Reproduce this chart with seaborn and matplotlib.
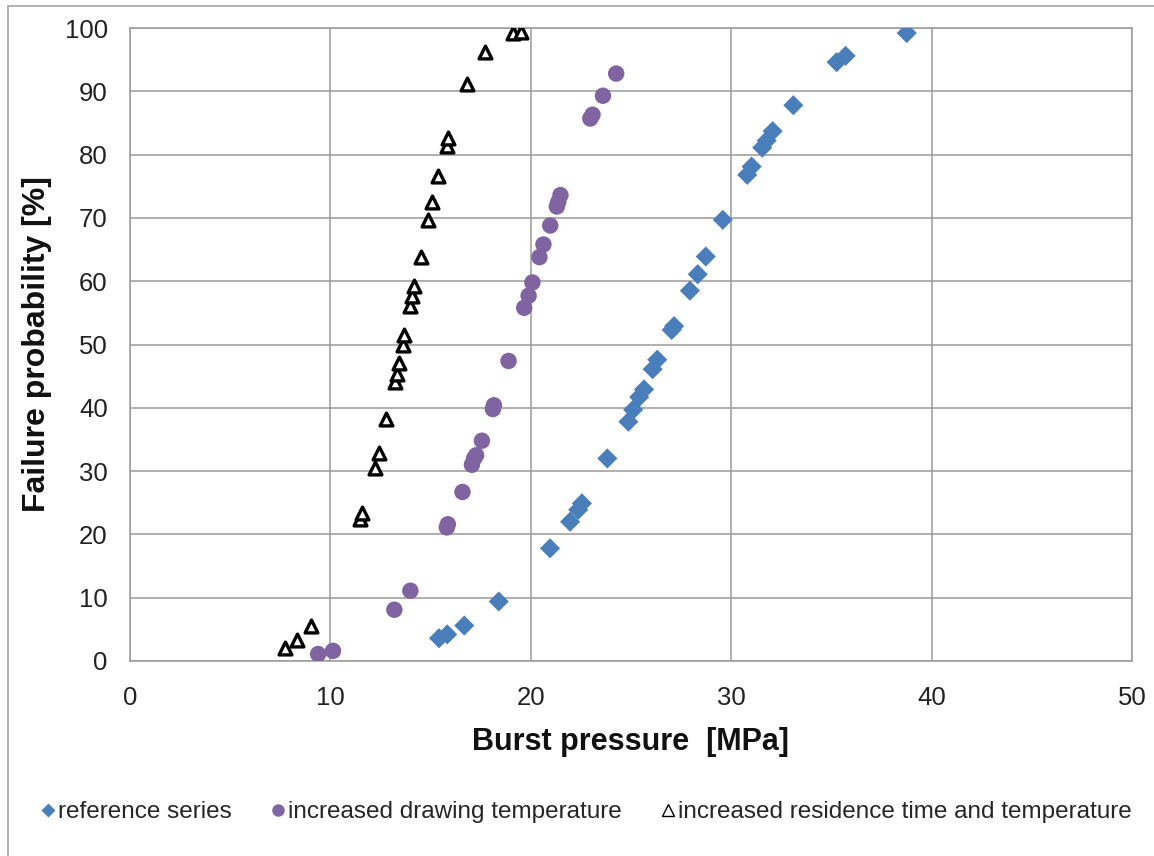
import matplotlib
matplotlib.use("Agg")
import matplotlib.pyplot as plt
from matplotlib.lines import Line2D
import pandas as pd
import seaborn as sns

# Burst pressure [MPa] and failure probability [%] for each test series
ref_pressure = [15.42, 15.83, 16.68, 18.40, 20.96, 21.96, 22.37, 22.55, 23.82, 24.87,
                25.11, 25.41, 25.65, 26.08, 26.31, 27.03, 27.15, 27.94, 28.33, 28.73,
                29.58, 30.80, 31.02, 31.55, 31.77, 32.07, 33.10, 35.26, 35.71, 38.76]
ref_prob = [3.6, 4.2, 5.6, 9.4, 17.8, 22.0, 23.9, 24.9, 32.0, 37.8,
            39.7, 41.7, 42.9, 46.1, 47.6, 52.3, 52.9, 58.5, 61.1, 63.9,
            69.7, 76.8, 78.1, 81.1, 82.2, 83.7, 87.8, 94.6, 95.6, 99.2]

draw_pressure = [9.39, 10.13, 13.19, 13.99, 15.81, 15.86, 16.59, 17.06, 17.17, 17.27,
                 17.56, 18.11, 18.16, 18.89, 19.67, 19.89, 20.08, 20.43, 20.63, 20.97,
                 21.30, 21.37, 21.48, 22.97, 23.08, 23.60, 24.26]
draw_prob = [1.1, 1.6, 8.1, 11.1, 21.1, 21.6, 26.7, 31.0, 32.0, 32.5,
             34.8, 39.8, 40.4, 47.4, 55.8, 57.7, 59.8, 63.8, 65.8, 68.8,
             71.8, 72.5, 73.6, 85.7, 86.3, 89.3, 92.8]

resid_pressure = [7.72, 8.35, 9.05, 11.48, 11.57, 12.23, 12.43, 12.78, 13.22, 13.32,
                  13.42, 13.64, 13.68, 13.98, 14.09, 14.19, 14.51, 14.88, 15.09, 15.39,
                  15.81, 15.86, 16.81, 17.69, 19.11, 19.51]
resid_prob = [2.0, 3.3, 5.6, 22.5, 23.4, 30.5, 32.9, 38.3, 44.0, 45.4,
              47.0, 49.9, 51.5, 56.1, 57.6, 59.3, 63.8, 69.7, 72.5, 76.6,
              81.4, 82.7, 91.1, 96.2, 99.2, 99.4]

series_names = ["reference series",
                "increased drawing temperature",
                "increased residence time and temperature"]

x_ticks = [0, 10, 20, 30, 40, 50]
y_ticks = [0, 10, 20, 30, 40, 50, 60, 70, 80, 90, 100]

BLUE = "#4A7EBB"
PURPLE = "#8064A2"
GRID = "#9A9A9A"

sns.set_style("white")
plt.rcParams["font.family"] = ["Liberation Sans", "DejaVu Sans"]

fig = plt.figure(figsize=(11.54, 8.56), dpi=100)
ax = fig.add_axes([130 / 1154, 1 - 661 / 856, 1002 / 1154, 633 / 856])

df_ref = pd.DataFrame({"pressure": ref_pressure, "prob": ref_prob})
df_draw = pd.DataFrame({"pressure": draw_pressure, "prob": draw_prob})
df_resid = pd.DataFrame({"pressure": resid_pressure, "prob": resid_prob})

sns.scatterplot(data=df_ref, x="pressure", y="prob", ax=ax, marker="D",
                s=105, color=BLUE, edgecolor="none", zorder=3)
sns.scatterplot(data=df_draw, x="pressure", y="prob", ax=ax, marker="o",
                s=140, color=PURPLE, edgecolor="none", zorder=3)
sns.scatterplot(data=df_resid, x="pressure", y="prob", ax=ax, marker="^",
                s=85, facecolor="white", edgecolor="black", linewidth=2.4, zorder=4)

ax.set_xlim(0, 50)
ax.set_ylim(0, 100)
ax.set_xticks(x_ticks)
ax.set_yticks(y_ticks)
ax.tick_params(axis="both", length=0, labelsize=18.5, colors="#222222")
ax.tick_params(axis="x", pad=18)
ax.tick_params(axis="y", pad=16)
ax.grid(True, color=GRID, linewidth=1.1)
ax.set_axisbelow(True)
for sp in ax.spines.values():
    sp.set_color(GRID)
    sp.set_linewidth(1.1)

ax.set_xlabel("Burst pressure  [MPa]", fontsize=22, fontweight="bold", color="#111111")
ax.set_ylabel("Failure probability [%]", fontsize=23, fontweight="bold", color="#111111")
ax.xaxis.set_label_coords(0.5, -0.105)
ax.yaxis.set_label_coords(-0.078, 0.5)

handles = [
    Line2D([], [], linestyle="none", marker="D", markersize=7, color=BLUE,
           markeredgecolor="none"),
    Line2D([], [], linestyle="none", marker="o", markersize=9, color=PURPLE,
           markeredgecolor="none"),
    Line2D([], [], linestyle="none", marker="^", markersize=9, markerfacecolor="white",
           markeredgecolor="black", markeredgewidth=1.0),
]
fig.legend(handles, series_names, loc="center", bbox_to_anchor=(0.508, 1 - 812 / 856),
           ncol=3, frameon=False, fontsize=17.5, handlelength=0.6, handletextpad=0.1,
           columnspacing=1.6)

# chart-area frame (left and top edges)
fig.add_artist(Line2D([8 / 1154, 8 / 1154], [0, 1 - 6 / 856], transform=fig.transFigure,
                      color="#A6A6A6", linewidth=1.2))
fig.add_artist(Line2D([8 / 1154, 1], [1 - 6 / 856, 1 - 6 / 856], transform=fig.transFigure,
                      color="#A6A6A6", linewidth=1.2))

fig.savefig("out.png", dpi=100, facecolor="white")
